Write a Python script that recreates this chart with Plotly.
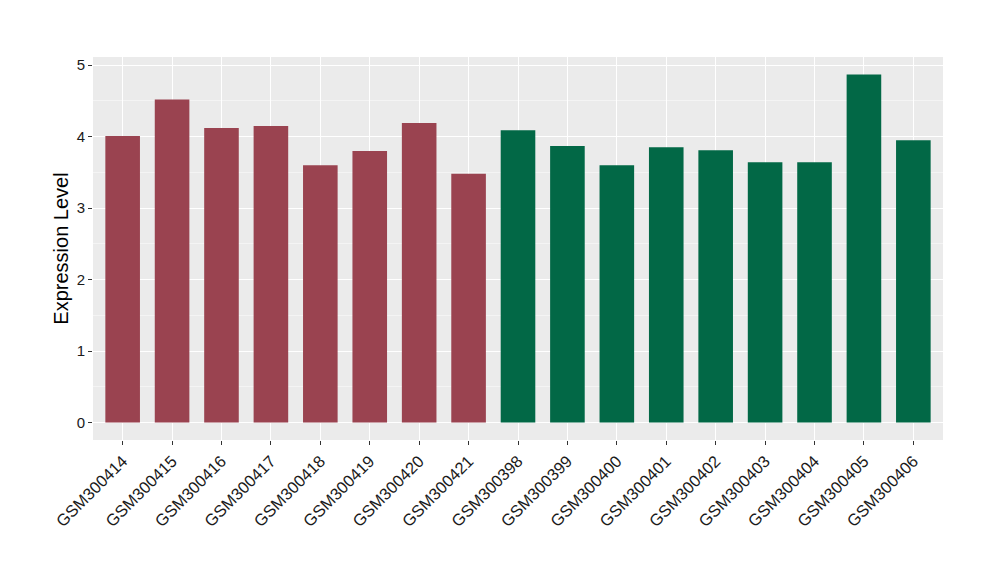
import plotly.graph_objects as go

samples_a = ["GSM300414", "GSM300415", "GSM300416", "GSM300417",
             "GSM300418", "GSM300419", "GSM300420", "GSM300421"]
values_a = [4.01, 4.52, 4.12, 4.15, 3.60, 3.80, 4.19, 3.48]
samples_b = ["GSM300398", "GSM300399", "GSM300400", "GSM300401", "GSM300402",
             "GSM300403", "GSM300404", "GSM300405", "GSM300406"]
values_b = [4.09, 3.87, 3.60, 3.85, 3.81, 3.64, 3.64, 4.87, 3.95]
y_ticks = [0, 1, 2, 3, 4, 5]

color_a = "#9A4350"
color_b = "#026846"

categories = samples_a + samples_b
ymax = max(values_a + values_b)
pad = ymax * 0.05

fig = go.Figure()
fig.add_trace(go.Bar(x=samples_a, y=values_a, marker=dict(color=color_a, line=dict(width=0)),
                     width=0.7, showlegend=False))
fig.add_trace(go.Bar(x=samples_b, y=values_b, marker=dict(color=color_b, line=dict(width=0)),
                     width=0.7, showlegend=False))

fig.update_layout(
    width=1000, height=580,
    margin=dict(l=85, r=65, t=49, b=148),
    paper_bgcolor="white",
    plot_bgcolor="#EBEBEB",
    font=dict(family="Liberation Sans, Arial, sans-serif", color="#333333"),
    xaxis=dict(
        type="category",
        categoryorder="array", categoryarray=categories,
        range=[-0.6, len(categories) - 0.4],
        showgrid=True, gridcolor="white", gridwidth=1.1,
        ticks="outside", ticklen=4, tickwidth=1, tickcolor="#333333",
        tickangle=-45,
        tickfont=dict(size=16.5, color="#1a1a1a"),
        showline=False, zeroline=False,
    ),
    yaxis=dict(
        range=[-pad, ymax + pad],
        tickvals=y_ticks,
        showgrid=True, gridcolor="white", gridwidth=1.1,
        minor=dict(dtick=0.5, showgrid=True, gridcolor="#F4F4F4", gridwidth=0.7),
        ticks="outside", ticklen=4, tickwidth=1, tickcolor="#333333",
        tickfont=dict(size=15, color="#1a1a1a"),
        title=dict(text="Expression Level", font=dict(size=20, color="black"), standoff=2),
        showline=False, zeroline=False,
    ),
    bargap=0.3,
)

fig.write_html("out.html")
